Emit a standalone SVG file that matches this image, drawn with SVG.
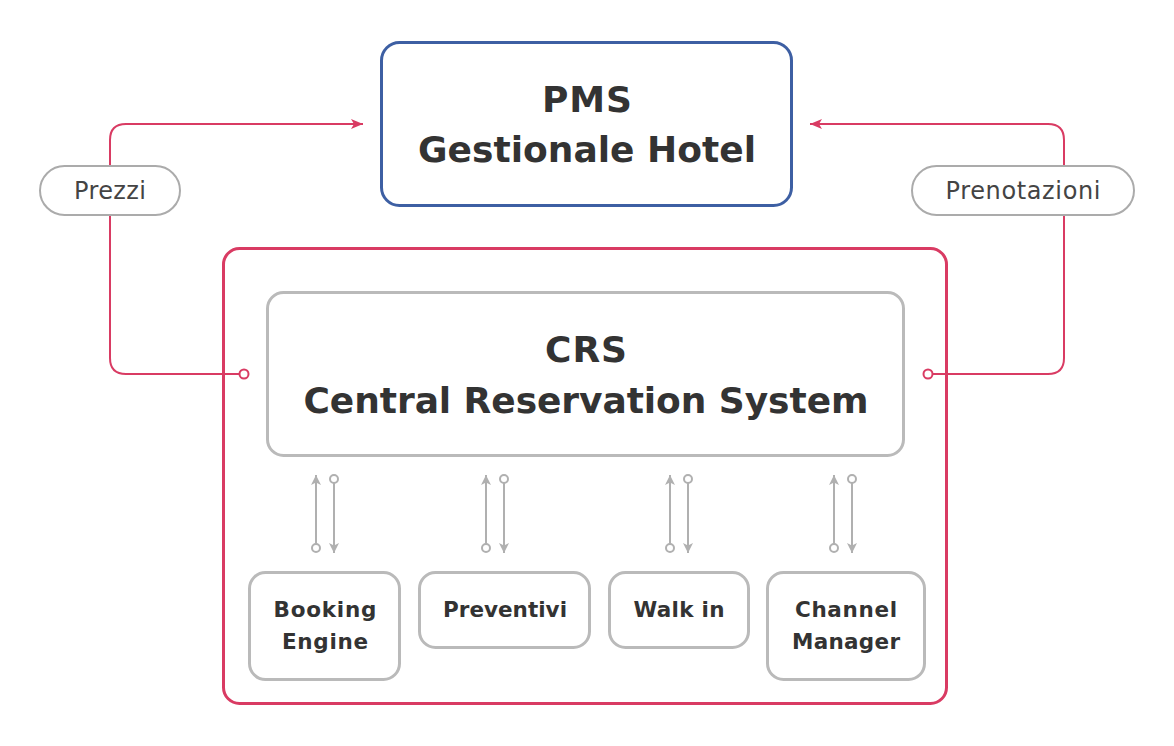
<svg xmlns="http://www.w3.org/2000/svg" width="1174" height="746" viewBox="0 0 1174 746">
<defs>
<style>
.t{font-family:"DejaVu Sans","Open Sans",sans-serif;font-weight:700;fill:#333;text-anchor:middle}
.big{font-size:36px}
.sm{font-size:21.5px}
.lb{font-size:24px;fill:#444;font-weight:400}
.box{fill:#fff;stroke:#bababa;stroke-width:3}
.pill{fill:#fff;stroke:#ababab;stroke-width:2}
.red{fill:none;stroke:#d93b63;stroke-width:2}
.gr{fill:none;stroke:#b0b0b0;stroke-width:2}
</style>
<marker id="ar" viewBox="0 0 12 10" refX="12" refY="5" markerWidth="12" markerHeight="10" markerUnits="userSpaceOnUse" orient="auto">
<path d="M0,0 L12,5 L0,10 L3,5 Z" fill="#d93b63"/>
</marker>
<marker id="ag" viewBox="0 0 10 10" refX="10" refY="5" markerWidth="10" markerHeight="10" markerUnits="userSpaceOnUse" orient="auto">
<path d="M0,0 L10,5 L0,10 L2.5,5 Z" fill="#b0b0b0"/>
</marker>
</defs>
<rect width="1174" height="746" fill="#fff"/>

<g id="connectors">
<path class="red" d="M240,374 H126 Q110,374 110,358 V140 Q110,124 126,124 H363" marker-end="url(#ar)"/>
<circle cx="244" cy="374" r="4.5" fill="#fff" stroke="#d93b63" stroke-width="2"/>
<path class="red" d="M932,374 H1048 Q1064,374 1064,358 V140 Q1064,124 1048,124 H810" marker-end="url(#ar)"/>
<circle cx="928" cy="374" r="4.5" fill="#fff" stroke="#d93b63" stroke-width="2"/>
<g>
<path class="gr" d="M316,544 V475" marker-end="url(#ag)"/>
<circle cx="316" cy="548" r="4" fill="#fff" stroke="#b0b0b0" stroke-width="2"/>
<path class="gr" d="M334,483 V553" marker-end="url(#ag)"/>
<circle cx="334" cy="479" r="4" fill="#fff" stroke="#b0b0b0" stroke-width="2"/>
</g>
<g>
<path class="gr" d="M486,544 V475" marker-end="url(#ag)"/>
<circle cx="486" cy="548" r="4" fill="#fff" stroke="#b0b0b0" stroke-width="2"/>
<path class="gr" d="M504,483 V553" marker-end="url(#ag)"/>
<circle cx="504" cy="479" r="4" fill="#fff" stroke="#b0b0b0" stroke-width="2"/>
</g>
<g>
<path class="gr" d="M670,544 V475" marker-end="url(#ag)"/>
<circle cx="670" cy="548" r="4" fill="#fff" stroke="#b0b0b0" stroke-width="2"/>
<path class="gr" d="M688,483 V553" marker-end="url(#ag)"/>
<circle cx="688" cy="479" r="4" fill="#fff" stroke="#b0b0b0" stroke-width="2"/>
</g>
<g>
<path class="gr" d="M834,544 V475" marker-end="url(#ag)"/>
<circle cx="834" cy="548" r="4" fill="#fff" stroke="#b0b0b0" stroke-width="2"/>
<path class="gr" d="M852,483 V553" marker-end="url(#ag)"/>
<circle cx="852" cy="479" r="4" fill="#fff" stroke="#b0b0b0" stroke-width="2"/>
</g>
</g>

<g id="pms">
<rect x="381.5" y="42.5" width="410" height="163" rx="18" fill="#fff" stroke="#3d5fa3" stroke-width="3"/>
<text class="t big" x="587" y="111.5" textLength="90" lengthAdjust="spacing">PMS</text>
<text class="t big" x="587" y="162" textLength="338" lengthAdjust="spacing">Gestionale Hotel</text>
</g>

<g id="prezzi">
<rect class="pill" x="40" y="166" width="140" height="49" rx="24.5"/>
<text class="t lb" x="110" y="199" textLength="72" lengthAdjust="spacing">Prezzi</text>
</g>

<g id="prenotazioni">
<rect class="pill" x="912" y="166" width="222" height="49" rx="24.5"/>
<text class="t lb" x="1023" y="199" textLength="155" lengthAdjust="spacing">Prenotazioni</text>
</g>

<g id="container">
<rect x="223.5" y="248.5" width="723" height="455" rx="16" fill="none" stroke="#d93b63" stroke-width="3"/>
</g>

<g id="crs">
<rect class="box" x="267.5" y="292.5" width="636" height="163" rx="16"/>
<text class="t big" x="586" y="361.5" textLength="82" lengthAdjust="spacing">CRS</text>
<text class="t big" x="586" y="413" textLength="565" lengthAdjust="spacing">Central Reservation System</text>
</g>

<g id="booking">
<rect class="box" x="249.5" y="572.5" width="150" height="107" rx="16"/>
<text class="t sm" x="325" y="617" textLength="103" lengthAdjust="spacing">Booking</text>
<text class="t sm" x="325" y="649" textLength="86" lengthAdjust="spacing">Engine</text>
</g>

<g id="preventivi">
<rect class="box" x="419.5" y="572.5" width="170" height="75" rx="16"/>
<text class="t sm" x="505" y="617" textLength="124" lengthAdjust="spacing">Preventivi</text>
</g>

<g id="walkin">
<rect class="box" x="609.5" y="572.5" width="139" height="75" rx="16"/>
<text class="t sm" x="679" y="617" textLength="91" lengthAdjust="spacing">Walk in</text>
</g>

<g id="channel">
<rect class="box" x="767.5" y="572.5" width="157" height="107" rx="16"/>
<text class="t sm" x="846" y="617" textLength="102" lengthAdjust="spacing">Channel</text>
<text class="t sm" x="846" y="649" textLength="108" lengthAdjust="spacing">Manager</text>
</g>
</svg>
